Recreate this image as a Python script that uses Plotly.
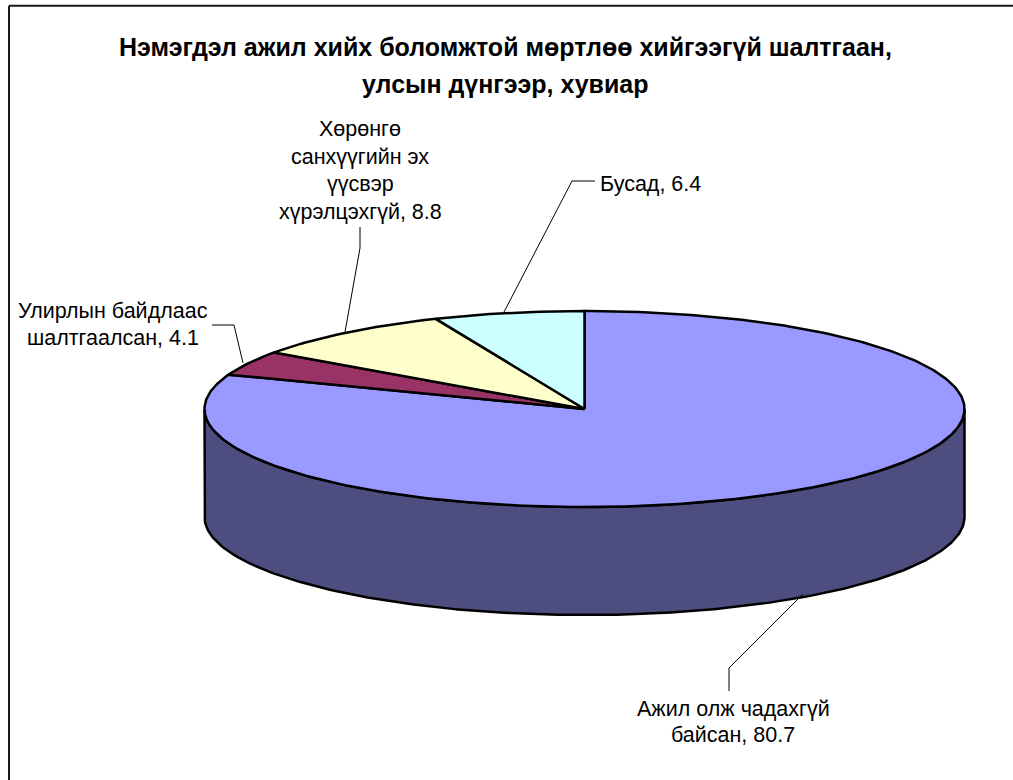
import numpy as np
import plotly.graph_objects as go

categories = ["Ажил олж чадахгүй байсан", "Улирлын байдлаас шалтгаалсан",
              "Хөрөнгө санхүүгийн эх үүсвэр хүрэлцэхгүй", "Бусад"]
values = [80.7, 4.1, 8.8, 6.4]
colors = ["#9999FF", "#993366", "#FFFFCC", "#CCFFFF"]
side_color = "#4D4D7F"
edge = "#000000"

CX, CY, RX, RY, DEPTH = 584.5, 409.0, 380.0, 98.0, 108.0


def ell(t, dy=0.0):
    return CX + RX * np.sin(t), CY - RY * np.cos(t) + dy


fig = go.Figure()

# side wall of the pie (front half of the cylinder)
t = np.linspace(np.pi / 2, 3 * np.pi / 2, 200)
xt, yt = ell(t)
xb, yb = ell(t[::-1], DEPTH)
fig.add_trace(go.Scatter(x=np.r_[xt, xb, xt[0]], y=np.r_[yt, yb, yt[0]], mode="lines",
                         fill="toself", fillcolor=side_color,
                         line=dict(color=edge, width=2.5), hoverinfo="skip", showlegend=False))

# top face, one slice per value, clockwise from 12 o'clock
total = sum(values)
start = 0.0
for name, v, c in zip(categories, values, colors):
    end = start + v / total * 2 * np.pi
    t = np.linspace(start, end, max(int(v * 4), 12))
    x, y = ell(t)
    fig.add_trace(go.Scatter(x=np.r_[CX, x, CX], y=np.r_[CY, y, CY], mode="lines",
                             fill="toself", fillcolor=c, name=name,
                             line=dict(color=edge, width=2.5),
                             text=f"{name}, {v}", hoverinfo="text", showlegend=False))
    start = end

# leader lines
leaders = [
    ([803, 729, 729], [594, 668, 691]),
    ([243, 234, 212], [363, 325, 325]),
    ([345, 360, 360], [332, 248, 227]),
    ([504, 572, 595], [312, 181, 181]),
]
for lx, ly in leaders:
    fig.add_trace(go.Scatter(x=lx, y=ly, mode="lines", line=dict(color="#000000", width=1),
                             hoverinfo="skip", showlegend=False))

FONT = "Liberation Sans, Arial, sans-serif"
title_lines = [("Нэмэгдэл ажил хийх боломжтой мөртлөө хийгээгүй шалтгаан,", 47),
               ("улсын дүнгээр, хувиар", 84)]
label_lines = [
    ("Ажил олж чадахгүй", 733, 709), (f"байсан, {values[0]}", 733, 735),
    ("Улирлын байдлаас", 113, 311), (f"шалтгаалсан, {values[1]}", 113, 338),
    ("Хөрөнгө", 360, 129), ("санхүүгийн эх", 360, 157), ("үүсвэр", 360, 184),
    (f"хүрэлцэхгүй, {values[2]}", 360, 212),
    (f"Бусад, {values[3]}", 650, 184),
]
annotations = [dict(x=505.5, y=yy, text=f"<b>{s}</b>", showarrow=False, xref="x", yref="y",
                    xanchor="center", yanchor="middle",
                    font=dict(family=FONT, size=25, color="#000000"))
               for s, yy in title_lines]
annotations += [dict(x=xx, y=yy, text=s, showarrow=False, xref="x", yref="y",
                     xanchor="center", yanchor="middle",
                     font=dict(family=FONT, size=21.5, color="#000000"))
                for s, xx, yy in label_lines]

frame = dict(color="#1A1A1A", width=2)
fig.update_layout(
    width=1013, height=780, autosize=False,
    margin=dict(l=0, r=0, t=0, b=0),
    paper_bgcolor="#FFFFFF", plot_bgcolor="#FFFFFF",
    xaxis=dict(range=[0, 1013], visible=False, fixedrange=True),
    yaxis=dict(range=[780, 0], visible=False, fixedrange=True),
    annotations=annotations,
    shapes=[
        dict(type="line", xref="x", yref="y", x0=9, y0=5.7, x1=1013, y1=5.7, line=frame, layer="below"),
        dict(type="line", xref="x", yref="y", x0=9, y0=5.7, x1=9, y1=780, line=frame, layer="below"),
    ],
)
# remove the page's default 8px body margin so the figure fills the window
fig.write_html("out.html", config={"displayModeBar": False},
               post_script="document.body.style.margin='0';document.body.style.overflow='hidden';")
